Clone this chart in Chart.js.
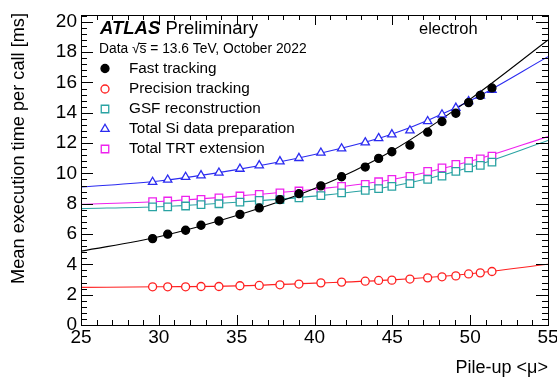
<!DOCTYPE html>
<html><head><meta charset="utf-8">
<script src="https://cdn.jsdelivr.net/npm/chart.js@4.4.1/dist/chart.umd.min.js"></script>
<style>html,body{margin:0;padding:0;background:#fff;}#wrap{width:557px;height:380px;position:relative;}</style>
</head><body><div id="wrap"><canvas id="c" width="557" height="380"></canvas></div>
<script>
// ---- data ----
const pileUp = [29.60,30.57,31.72,32.71,33.86,35.21,36.45,37.78,39.00,40.41,41.74,43.26,44.12,44.97,46.13,47.27,48.19,49.08,49.90,50.65,51.40];
const fastTracking = [5.70,5.99,6.25,6.58,6.86,7.30,7.72,8.27,8.66,9.18,9.78,10.42,10.99,11.43,11.86,12.72,13.42,13.97,14.67,15.15,15.64];
const precisionTracking = [2.52,2.52,2.52,2.54,2.54,2.59,2.61,2.65,2.70,2.78,2.83,2.89,2.94,2.96,3.03,3.11,3.18,3.24,3.37,3.44,3.53];
const gsfReco = [7.79,7.79,7.85,7.94,8.00,8.11,8.22,8.27,8.38,8.53,8.71,8.88,8.99,9.14,9.32,9.61,9.82,10.13,10.37,10.53,10.74];
const siDataPrep = [9.43,9.58,9.76,9.87,10.04,10.30,10.53,10.79,11.01,11.36,11.64,12.04,12.32,12.57,12.83,13.44,13.88,14.32,14.76,15.13,15.50];
const trtExtension = [8.14,8.18,8.24,8.29,8.38,8.51,8.62,8.71,8.84,8.99,9.14,9.28,9.45,9.61,9.80,10.13,10.37,10.59,10.79,10.96,11.14];
// fit curves at these pile-up values
const fitPileUp = [25,30,35,40,45,50,55];
const fitFast = [4.87,5.82,7.22,9.00,11.50,14.90,18.80];
const fitPrecision = [2.48,2.52,2.58,2.76,2.98,3.38,4.01];
const fitGsf = [7.68,7.80,8.10,8.50,9.15,10.40,12.17];
const fitSi = [9.10,9.50,10.25,11.25,12.60,14.80,17.70];
const fitTrt = [7.96,8.15,8.50,8.95,9.60,10.80,12.43];
const xTicks = [25,30,35,40,45,50,55];
const yTicks = [0,2,4,6,8,10,12,14,16,18,20];
const legendLabels = ["Fast tracking","Precision tracking","GSF reconstruction","Total Si data preparation","Total TRT extension"];

const FONT = "'Liberation Sans', Arial, Helvetica, sans-serif";
const cBlack = '#000000', cRed = '#ff2020', cTeal = '#2aa3a3', cBlue = '#2b2bf0', cMag = '#ee22ee';
const pts = (xs, ys) => xs.map((x, i) => ({x, y: ys[i]}));

const markerSets = [
  {label: legendLabels[0], data: pts(pileUp, fastTracking), pointStyle: 'circle', pointRadius: 4, borderColor: cBlack, backgroundColor: cBlack},
  {label: legendLabels[1], data: pts(pileUp, precisionTracking), pointStyle: 'circle', pointRadius: 4, borderColor: cRed, backgroundColor: '#fff'},
  {label: legendLabels[2], data: pts(pileUp, gsfReco), pointStyle: 'rect', pointRadius: 5.3, borderColor: cTeal, backgroundColor: '#fff'},
  {label: legendLabels[3], data: pts(pileUp, siDataPrep), pointStyle: 'triangle', pointRadius: 4.8, borderColor: cBlue, backgroundColor: '#fff'},
  {label: legendLabels[4], data: pts(pileUp, trtExtension), pointStyle: 'rect', pointRadius: 5.3, borderColor: cMag, backgroundColor: '#fff'}
].map(d => Object.assign(d, {showLine: false, pointBorderWidth: 1.3, pointHoverRadius: d.pointRadius}));

const fitSets = [
  [fitFast, cBlack],[fitPrecision, cRed],[fitGsf, cTeal],[fitSi, cBlue],[fitTrt, cMag]
].map(([ys, col]) => ({label: 'fit', data: pts(fitPileUp, ys), showLine: true, pointRadius: 0, borderColor: col, borderWidth: 1.1, cubicInterpolationMode: 'monotone', fill: false}));

const rootPlugin = {
  id: 'rootStyle',
  afterDraw(chart) {
    const ctx = chart.ctx, a = chart.chartArea, xs = chart.scales.x, ys = chart.scales.y;
    ctx.save();
    ctx.strokeStyle = '#000'; ctx.lineWidth = 1;
    // frame
    ctx.strokeRect(Math.round(a.left) + 0.5, Math.round(a.top) + 0.5, Math.round(a.right - a.left), Math.round(a.bottom - a.top));
    ctx.beginPath();
    // x ticks (bottom and top)
    for (let v = 25; v <= 55.0001; v += 1) {
      const px = Math.round(xs.getPixelForValue(v)) + 0.5;
      const L = (Math.abs(v % 5) < 1e-6) ? 10 : 5;
      ctx.moveTo(px, a.bottom); ctx.lineTo(px, a.bottom - L);
      ctx.moveTo(px, a.top); ctx.lineTo(px, a.top + L);
    }
    // y ticks (left and right)
    for (let i = 0; i * 0.4 <= ys.max + 1e-6; i++) {
      const v = i * 0.4;
      const py = Math.round(ys.getPixelForValue(v)) + 0.5;
      const L = (i % 5 === 0) ? 12 : 6;
      ctx.moveTo(a.left, py); ctx.lineTo(a.left + L, py);
      ctx.moveTo(a.right, py); ctx.lineTo(a.right - L, py);
    }
    ctx.stroke();

    // texts
    ctx.fillStyle = '#000';
    ctx.textBaseline = 'middle';
    ctx.textAlign = 'left';
    ctx.font = `italic bold 18.5px ${FONT}`;
    ctx.fillText('ATLAS', 100, 29);
    const wA = ctx.measureText('ATLAS ').width;
    ctx.font = `18.5px ${FONT}`;
    ctx.fillText('Preliminary', 100 + wA, 29);

    ctx.font = `16.5px ${FONT}`;
    ctx.fillText('electron', 419, 29);

    ctx.font = `13.8px ${FONT}`;
    const pre = 'Data √';
    ctx.fillText('Data √s = 13.6 TeV, October 2022', 99, 49);
    const w1 = ctx.measureText(pre).width, w2 = ctx.measureText('s').width;
    ctx.beginPath();
    ctx.moveTo(99 + w1 - 1, 43.5); ctx.lineTo(99 + w1 + w2, 43.5);
    ctx.stroke();

    // legend
    const legY = [68.5, 89, 109, 129, 149];
    markerSets.forEach((d, i) => {
      ctx.fillStyle = '#000';
      ctx.font = `15.3px ${FONT}`;
      ctx.fillText(d.label, 129, legY[i]);
      ctx.strokeStyle = d.borderColor; ctx.fillStyle = d.backgroundColor; ctx.lineWidth = 1.3;
      Chart.helpers.drawPoint(ctx, {pointStyle: d.pointStyle, radius: d.pointRadius, borderWidth: 1.3}, 105, legY[i]);
    });

    // axis titles
    ctx.fillStyle = '#000';
    ctx.font = `18px ${FONT}`;
    ctx.textAlign = 'right';
    ctx.fillText('Pile-up <μ>', 548, 368);
    ctx.save();
    ctx.translate(19, 13);
    ctx.rotate(-Math.PI / 2);
    ctx.font = `18.2px ${FONT}`;
    ctx.textAlign = 'right';
    ctx.fillText('Mean execution time per call [ms]', 0, 0);
    ctx.restore();
    ctx.restore();
  }
};

new Chart(document.getElementById('c'), {
  type: 'scatter',
  data: {datasets: [...markerSets, ...fitSets]},
  options: {
    responsive: false, animation: false, devicePixelRatio: 1,
    layout: {padding: {left: 0, right: 9, top: 15, bottom: 0}},
    plugins: {legend: {display: false}, tooltip: {enabled: false}},
    scales: {
      x: {
        type: 'linear', min: 25, max: 55,
        afterBuildTicks: s => { s.ticks = xTicks.map(v => ({value: v})); },
        afterFit: s => { s.height = 55; s.paddingLeft = 0; s.paddingRight = 0; },
        grid: {display: false, drawTicks: false}, border: {display: false},
        ticks: {font: {family: FONT, size: 19}, color: '#000', padding: 1, maxRotation: 0, autoSkip: false}
      },
      y: {
        type: 'linear', min: 0, max: 20.45,
        afterBuildTicks: s => { s.ticks = yTicks.map(v => ({value: v})); },
        afterFit: s => { s.width = 81; s.paddingTop = 0; s.paddingBottom = 0; },
        grid: {display: false, drawTicks: false}, border: {display: false},
        ticks: {font: {family: FONT, size: 19}, color: '#000', padding: 4, autoSkip: false}
      }
    }
  },
  plugins: [rootPlugin]
});
</script></body></html>
